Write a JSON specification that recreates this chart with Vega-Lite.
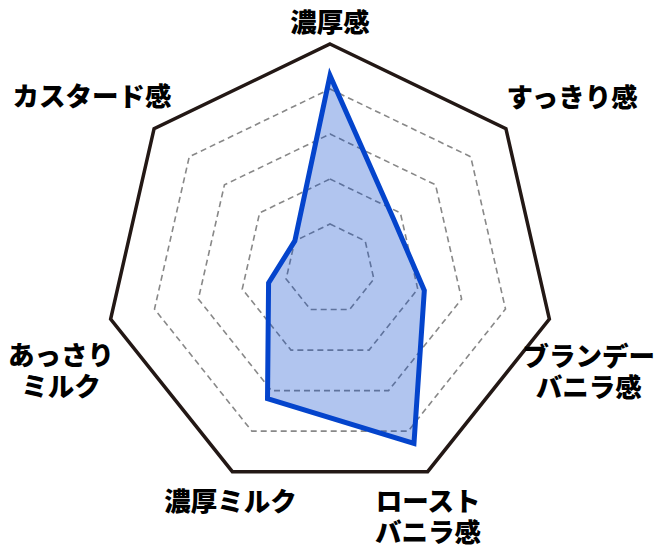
{
  "$schema": "https://vega.github.io/schema/vega-lite/v6.json",
  "width": 660,
  "height": 555,
  "padding": 0,
  "autosize": {"type": "none"},
  "config": {"view": {"stroke": null}},
  "datasets": {
    "rings": [
      {"level": 1, "k": 0}, {"level": 1, "k": 1}, {"level": 1, "k": 2}, {"level": 1, "k": 3}, {"level": 1, "k": 4}, {"level": 1, "k": 5}, {"level": 1, "k": 6},
      {"level": 2, "k": 0}, {"level": 2, "k": 1}, {"level": 2, "k": 2}, {"level": 2, "k": 3}, {"level": 2, "k": 4}, {"level": 2, "k": 5}, {"level": 2, "k": 6},
      {"level": 3, "k": 0}, {"level": 3, "k": 1}, {"level": 3, "k": 2}, {"level": 3, "k": 3}, {"level": 3, "k": 4}, {"level": 3, "k": 5}, {"level": 3, "k": 6},
      {"level": 4, "k": 0}, {"level": 4, "k": 1}, {"level": 4, "k": 2}, {"level": 4, "k": 3}, {"level": 4, "k": 4}, {"level": 4, "k": 5}, {"level": 4, "k": 6},
      {"level": 5, "k": 0}, {"level": 5, "k": 1}, {"level": 5, "k": 2}, {"level": 5, "k": 3}, {"level": 5, "k": 4}, {"level": 5, "k": 5}, {"level": 5, "k": 6}
    ],
    "scores": [
      {"axis": "濃厚感", "k": 0, "value": 4.3},
      {"axis": "すっきり感", "k": 1, "value": 1.8},
      {"axis": "ブランデーバニラ感", "k": 2, "value": 2.15},
      {"axis": "ローストバニラ感", "k": 3, "value": 4.3},
      {"axis": "濃厚ミルク", "k": 4, "value": 3.2},
      {"axis": "あっさりミルク", "k": 5, "value": 1.4},
      {"axis": "カスタード感", "k": 6, "value": 1.0}
    ],
    "labels": [
      {"label": "濃厚感", "k": 0},
      {"label": "すっきり感", "k": 1},
      {"label": "ブランデー\nバニラ感", "k": 2},
      {"label": "ロースト\nバニラ感", "k": 3},
      {"label": "濃厚ミルク", "k": 4},
      {"label": "あっさり\nミルク", "k": 5},
      {"label": "カスタード感", "k": 6}
    ]
  },
  "layer": [
    {
      "data": {"name": "rings"},
      "transform": [
        {"filter": "datum.level < 5"},
        {"calculate": "datum.level * sin(datum.k * 2 * PI / 7)", "as": "px"},
        {"calculate": "datum.level * cos(datum.k * 2 * PI / 7)", "as": "py"}
      ],
      "mark": {"type": "line", "interpolate": "linear-closed", "stroke": "#888888", "strokeWidth": 1.6, "strokeDash": [6, 4]},
      "encoding": {
        "x": {"field": "px", "type": "quantitative", "scale": {"domain": [-7.333, 7.333], "nice": false, "zero": false}, "axis": null},
        "y": {"field": "py", "type": "quantitative", "scale": {"domain": [-6.356, 5.978], "nice": false, "zero": false}, "axis": null},
        "detail": {"field": "level", "type": "nominal"},
        "order": {"field": "k", "type": "quantitative"}
      }
    },
    {
      "data": {"name": "rings"},
      "transform": [
        {"filter": "datum.level == 5"},
        {"calculate": "datum.level * sin(datum.k * 2 * PI / 7)", "as": "px"},
        {"calculate": "datum.level * cos(datum.k * 2 * PI / 7)", "as": "py"}
      ],
      "mark": {"type": "line", "interpolate": "linear-closed", "stroke": "#231815", "strokeWidth": 3.5, "strokeMiterLimit": 10},
      "encoding": {
        "x": {"field": "px", "type": "quantitative"},
        "y": {"field": "py", "type": "quantitative"},
        "order": {"field": "k", "type": "quantitative"}
      }
    },
    {
      "data": {"name": "scores"},
      "transform": [
        {"calculate": "datum.value * sin(datum.k * 2 * PI / 7)", "as": "px"},
        {"calculate": "datum.value * cos(datum.k * 2 * PI / 7)", "as": "py"}
      ],
      "mark": {"type": "line", "interpolate": "linear-closed", "stroke": "#0444cc", "strokeWidth": 5, "fill": "#0444cc", "fillOpacity": 0.31, "strokeJoin": "miter", "strokeMiterLimit": 10},
      "encoding": {
        "x": {"field": "px", "type": "quantitative"},
        "y": {"field": "py", "type": "quantitative"},
        "order": {"field": "k", "type": "quantitative"}
      }
    },
    {
      "data": {"name": "labels"},
      "transform": [
        {"calculate": "[0, 5.38, 5.75, 2.18, -2.21, -5.98, -5.29][datum.k]", "as": "px"},
        {"calculate": "[5.45, 3.78, -1.97, -5.19, -5.2, -1.95, 3.8][datum.k]", "as": "py"}
      ],
      "mark": {"type": "text", "font": "Noto Sans CJK JP", "fontWeight": 900, "fontSize": 26.5, "lineBreak": "\n", "lineHeight": 31, "align": "center", "baseline": "middle", "color": "#000000"},
      "encoding": {
        "x": {"field": "px", "type": "quantitative"},
        "y": {"field": "py", "type": "quantitative"},
        "text": {"field": "label", "type": "nominal"}
      }
    }
  ]
}
